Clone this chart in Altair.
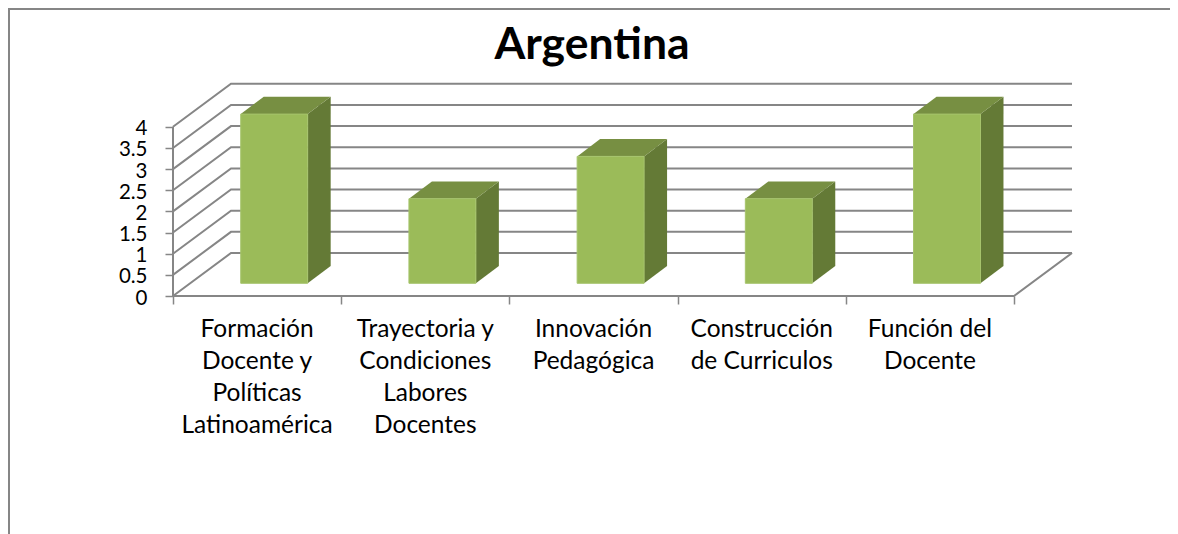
import altair as alt
import pandas as pd

categories = ["Formación\nDocente y\nPolíticas\nLatinoamérica",
              "Trayectoria y\nCondiciones\nLabores\nDocentes",
              "Innovación\nPedagógica",
              "Construcción\nde Curriculos",
              "Función del\nDocente"]
values = [4, 2, 3, 2, 4]
y_ticks = [0, 0.5, 1, 1.5, 2, 2.5, 3, 3.5, 4]
x_ticks = [0, 1, 2, 3, 4, 5]

W, H = 1162, 526
PX = 168.2          # px per category
PY = 42.3           # px per value unit
X0, Y0 = 165, 288   # origin of the front plane inside the view
WALL_DX, WALL_DY = 58 / PX, 43 / PY
BAR_DX, BAR_DY = 17.1 / PX, 12.7 / PY
DEPTH_DX, DEPTH_DY = 23 / PX, 17.3 / PY
BAR_W = 0.398
GRID = "#868686"
FONT = "Lato"

xs = alt.Scale(domain=[-X0 / PX, (W - X0) / PX], range=[0, W], nice=False, zero=False)
ys = alt.Scale(domain=[-(H - Y0) / PY, Y0 / PY], range=[H, 0], nice=False, zero=False)
x_axis = alt.Axis(values=x_ticks, labels=False, domain=False, grid=False, tickSize=8,
                  tickColor=GRID, tickWidth=1.5, offset=-(H - Y0), title=None)
y_axis = alt.Axis(values=y_ticks, domain=False, grid=False, tickSize=8, tickColor=GRID,
                  tickWidth=1.5, offset=-X0, labelFont=FONT, labelFontSize=20.5,
                  labelColor="black", labelPadding=18, labelOverlap=False, labelOffset=2,
                  labelBaseline="middle", labelFlush=False, title=None, format=".2~f")
X = lambda **k: alt.X("x:Q", scale=xs, axis=x_axis, **k)
Y = lambda **k: alt.Y("y:Q", scale=ys, axis=y_axis, **k)

grid_rows = []
for v in y_ticks:
    for j, (a, b) in enumerate([(0, v), (WALL_DX, v + WALL_DY), (5 + WALL_DX, v + WALL_DY)]):
        grid_rows.append({"x": a, "y": b, "g": f"g{v}", "o": j})
for j, (a, b) in enumerate([(0, 0), (5, 0), (5 + WALL_DX, WALL_DY)]):
    grid_rows.append({"x": a, "y": b, "g": "floor", "o": j})
for j, (a, b) in enumerate([(0, 0), (0, 4)]):
    grid_rows.append({"x": a, "y": b, "g": "axis", "o": j})

grid = alt.Chart(pd.DataFrame(grid_rows)).mark_line(color=GRID, strokeWidth=2).encode(
    x=X(), y=Y(), detail="g:N", order="o:Q")

front, side, top = [], [], []
for i, v in enumerate(values):
    xl = i + 0.5 - BAR_W / 2 + BAR_DX
    xr = i + 0.5 + BAR_W / 2 + BAR_DX
    b = BAR_DY
    t = v + BAR_DY
    front.append({"x": xl, "x2": xr, "y": b, "y2": t})
    side += [{"x": xr, "y": b, "y2": t, "b": i},
             {"x": xr + DEPTH_DX, "y": b + DEPTH_DY, "y2": t + DEPTH_DY, "b": i}]
    top += [{"x": xl, "y": t, "y2": t, "b": i},
            {"x": xl + DEPTH_DX, "y": t, "y2": t + DEPTH_DY, "b": i},
            {"x": xr, "y": t, "y2": t + DEPTH_DY, "b": i},
            {"x": xr + DEPTH_DX, "y": t + DEPTH_DY, "y2": t + DEPTH_DY, "b": i}]

front_l = alt.Chart(pd.DataFrame(front)).mark_rect(color="#9BBB59", stroke="#A6C46C", strokeWidth=1).encode(
    x=X(), x2="x2:Q", y=Y(), y2="y2:Q")
side_l = alt.Chart(pd.DataFrame(side)).mark_area(color="#647A36", orient="vertical").encode(
    x=X(), y=Y(), y2="y2:Q", detail="b:N")
top_l = alt.Chart(pd.DataFrame(top)).mark_area(color="#778F42", orient="vertical").encode(
    x=X(), y=Y(), y2="y2:Q", detail="b:N")

labels = alt.Chart(pd.DataFrame({"x": [i + 0.5 for i in range(5)], "t": categories})).mark_text(
    font=FONT, fontSize=24.5, color="black", lineBreak="\n", lineHeight=32, baseline="top", align="center"
).encode(x=X(), y=alt.value(310), text="t:N")

frame_top = alt.Chart(pd.DataFrame({"a": [0]})).mark_rule(color="#868686", strokeWidth=2).encode(
    x=alt.value(0), x2=alt.value(W), y=alt.value(1))
frame_left = alt.Chart(pd.DataFrame({"a": [0]})).mark_rule(color="#868686", strokeWidth=2).encode(
    y=alt.value(0), y2=alt.value(H), x=alt.value(1))

chart = alt.layer(frame_top, frame_left, grid, side_l, top_l, front_l, labels).properties(
    width=W, height=H, padding=0, autosize=alt.AutoSizeParams(type="none"),
    title=alt.TitleParams("Argentina", font=FONT, fontSize=44.5, fontWeight="bold", color="black",
                          anchor="middle", dy=65, dx=3)
).configure_view(stroke=None)

chart.save("out.html", embed_options={"renderer": "svg", "actions": False})
